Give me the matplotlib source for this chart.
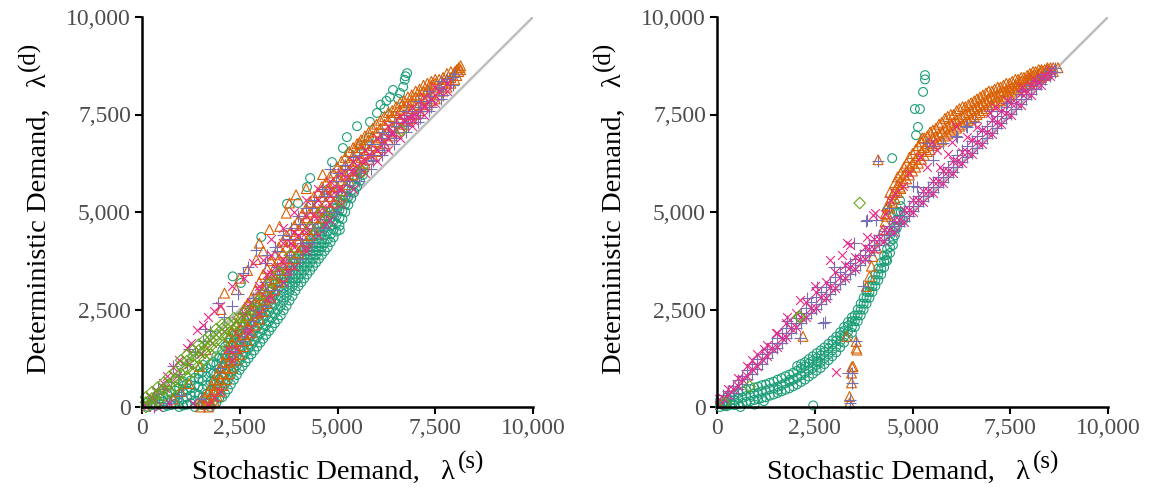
import matplotlib
matplotlib.use('Agg')
import matplotlib.pyplot as plt

plt.rcParams['font.family'] = ['Liberation Serif', 'DejaVu Serif']

# colours of the five series (Dark2)
teal, orange, purple, pink, green = '#1B9E77', '#D95F02', '#7570B3', '#E7298A', '#66A61E'

tick_vals = [0, 2500, 5000, 7500, 10000]
tick_labels = ['0', '2,500', '5,000', '7,500', '10,000']

# ---------------- left panel ----------------
# dense bands are kept as (x, [y, ...]) rows
L_teal_rows = [
    (150, [0, 120]), (350, [30, 180]), (550, [0, 140, 280]), (750, [50, 200, 360]),
    (950, [0, 150, 320, 480]), (1150, [60, 240, 420, 600]), (1350, [0, 170, 360, 550, 750]),
    (1550, [50, 250, 460, 680, 900]), (1750, [0, 200, 420, 650, 880, 1100]),
    (1900, [100, 350, 600, 850, 1100, 1300]), (2050, [250, 500, 750, 1000, 1250, 1450]),
    (2200, [450, 700, 950, 1200, 1450, 1650]), (2350, [700, 950, 1200, 1450, 1700, 1850]),
    (2500, [950, 1200, 1450, 1700, 1950]), (2650, [1150, 1400, 1650, 1900, 2150]),
    (2800, [1350, 1600, 1850, 2100, 2350]), (2950, [1550, 1800, 2050, 2300, 2550]),
    (3100, [1750, 2000, 2250, 2500, 2750]), (3250, [1950, 2200, 2450, 2700, 2950]),
    (3400, [2150, 2400, 2650, 2900, 3150]), (3550, [2350, 2600, 2850, 3100, 3300]),
    (3700, [2600, 2850, 3100, 3300, 3500]), (3850, [2850, 3100, 3300, 3500, 3700]),
    (4000, [3100, 3300, 3500, 3700, 3900]), (4150, [3300, 3500, 3700, 3900, 4100]),
    (4300, [3500, 3700, 3900, 4100, 4300]), (4450, [3700, 3900, 4100, 4300, 4500]),
    (4600, [3900, 4100, 4300, 4500, 4700]), (4750, [4100, 4300, 4500, 4700, 4900]),
    (4900, [4350, 4550, 4750, 4950, 5100]), (5050, [4650, 4850, 5050, 5250]),
    (5200, [5000, 5200, 5400, 5600]), (5350, [5350, 5550, 5750]),
    (5500, [5650, 5850, 6050]), (5650, [5950, 6150]),
]
L_teal_rows2 = [
    (250, [60]), (450, [70, 220]), (650, [30, 180, 320]), (850, [80, 240, 420]),
    (1050, [40, 200, 380, 540]), (1250, [100, 300, 480, 680]), (1450, [100, 300, 520, 720, 850]),
    (1650, [120, 330, 560, 780, 1000]), (1825, [150, 380, 620, 860, 1150]),
    (1975, [220, 480, 720, 980, 1250]), (2125, [350, 600, 850, 1100, 1350, 1550]),
    (2275, [580, 830, 1080, 1330, 1580, 1750]), (2425, [820, 1070, 1320, 1580, 1850]),
    (2575, [1050, 1300, 1550, 1800, 2050]), (2725, [1250, 1500, 1750, 2000, 2250]),
    (2875, [1450, 1700, 1950, 2200, 2450]), (3025, [1650, 1900, 2150, 2400, 2650]),
    (3175, [1850, 2100, 2350, 2600, 2850]), (3325, [2050, 2300, 2550, 2800, 3050]),
    (3475, [2250, 2500, 2750, 3000, 3200]), (3625, [2480, 2730, 2980, 3200, 3400]),
    (3775, [2730, 2980, 3200, 3400, 3600]), (3925, [2980, 3200, 3400, 3600, 3800]),
    (4075, [3200, 3400, 3600, 3800, 4000]), (4225, [3400, 3600, 3800, 4000, 4200]),
    (4375, [3600, 3800, 4000, 4200, 4400]), (4525, [3800, 4000, 4200, 4400, 4600]),
    (4675, [4000, 4200, 4400, 4600, 4800]), (4825, [4230, 4430, 4630, 4830, 5000]),
    (4975, [4500, 4700, 4900, 5100]), (5125, [4820, 5020, 5220, 5420]),
    (5275, [5180, 5380, 5580]), (5425, [5500, 5700, 5900]), (5575, [5800, 6000]),
]
L_teal_pts = [
    (2320, 3350), (2530, 3180), (3050, 4360), (3710, 5210), (3990, 5230), (4220, 5640),
    (4300, 5870), (4860, 6280), (5140, 6640), (5240, 6920), (5500, 7200), (5830, 7310),
    (6010, 7540), (6100, 7750), (6200, 7650), (6340, 7950), (6250, 7850), (6420, 8130),
    (6550, 7900), (6600, 8050), (6680, 8210), (6720, 8390), (6780, 8560), (6740, 8480),
    (1040, 660), (1560, 1080), (5300, 6500), (5600, 6700), (5800, 6900), (4900, 5500),
    (4730, 5560), (5060, 4540),
]
L_orange_rows = [
    (1500, [0, 150]), (1700, [0, 200, 400]), (1850, [150, 450, 700]),
    (2000, [400, 700, 1000]), (2150, [700, 1000, 1350]), (2300, [1000, 1300, 1650, 1950]),
    (2500, [1350, 1700, 2000, 2300]), (2700, [1700, 2050, 2350, 2650]),
    (2900, [2100, 2400, 2700, 3000]), (3100, [2450, 2750, 3050, 3400]),
    (3300, [2800, 3100, 3400, 3750]), (3500, [3200, 3500, 3800, 4100]),
    (3700, [3500, 3800, 4100, 4400]), (3900, [3800, 4100, 4400, 4650]),
    (4100, [4100, 4400, 4700, 4950]), (4300, [4400, 4700, 5000, 5250]),
    (4500, [4700, 5000, 5250, 5500]), (4700, [5000, 5250, 5500, 5750]),
    (4900, [5250, 5500, 5750, 6000]), (5100, [5550, 5800, 6050, 6300]),
    (5300, [5800, 6050, 6300, 6550]), (5500, [6050, 6300, 6550, 6750]),
    (5700, [6250, 6500, 6750, 6950]), (5900, [6450, 6700, 6950, 7150]),
    (6100, [6650, 6900, 7150, 7350]), (6300, [6850, 7100, 7350, 7550]),
    (6500, [7050, 7300, 7550, 7700]), (6700, [7250, 7500, 7700, 7850]),
    (6900, [7400, 7650, 7850, 8000]), (7100, [7600, 7800, 8000, 8150]),
    (7300, [7750, 7950, 8150, 8300]), (7500, [7900, 8100, 8300, 8400]),
    (7700, [8100, 8300, 8450]), (7900, [8300, 8450, 8600]),
    (8050, [8500, 8650]), (8150, [8650, 8750]),
]
L_orange_rows2 = [
    (1600, [80, 250]), (1775, [100, 320, 550]), (1925, [280, 580, 850]), (2075, [550, 850, 1150]),
    (2225, [850, 1150, 1500, 1800]), (2400, [1200, 1500, 1800, 2100]),
    (2600, [1550, 1850, 2200, 2500]), (2800, [1900, 2200, 2500, 2800]),
    (3000, [2250, 2550, 2850, 3200]), (3200, [2650, 2950, 3250, 3550]),
    (3400, [3000, 3300, 3600, 3900]), (3600, [3350, 3650, 3950, 4250]),
    (3800, [3650, 3950, 4250, 4500]), (4000, [3950, 4250, 4550, 4800]),
    (4200, [4250, 4550, 4850, 5100]), (4400, [4550, 4850, 5100, 5400]),
    (4600, [4850, 5100, 5400, 5650]), (4800, [5100, 5400, 5650, 5900]),
    (5000, [5400, 5650, 5900, 6150]), (5200, [5700, 5950, 6200, 6400]),
    (5400, [5950, 6200, 6450, 6650]), (5600, [6150, 6400, 6650, 6850]),
    (5800, [6350, 6600, 6850, 7050]), (6000, [6550, 6800, 7050, 7250]),
    (6200, [6750, 7000, 7250, 7450]), (6400, [6950, 7200, 7450, 7600]),
    (6600, [7150, 7400, 7600, 7800]), (6800, [7350, 7600, 7800, 7950]),
    (7000, [7500, 7750, 7950, 8100]), (7200, [7700, 7900, 8100, 8250]),
    (7400, [7850, 8050, 8250, 8350]), (7600, [8000, 8200, 8400]),
    (7800, [8200, 8400, 8550]), (8000, [8400, 8600]), (8100, [8600, 8700]),
]
L_orange_pts = [
    (2110, 2920), (2020, 2500), (2410, 3010), (2920, 3780), (3000, 4200), (3260, 4550),
    (3520, 4630), (3690, 4970), (3770, 5230), (3940, 5440), (4620, 5960), (5560, 6770),
    (1640, 1470), (1470, 1040), (2700, 3500), (2500, 3300), (3100, 4000), (4200, 5600),
    (1000, 400), (800, 200), (1200, 600),
]
L_purple_rows = [
    (2550, [1700, 2400]), (2850, [2200, 2800]), (3150, [2600, 3200, 3700]),
    (3450, [3000, 3600, 4000]), (3750, [3400, 3900, 4300]), (4050, [3800, 4300, 4700]),
    (4350, [4200, 4700, 5100]), (4650, [4600, 5000, 5400]), (4950, [5000, 5400, 5800]),
    (5250, [5400, 5800, 6100]), (5550, [5800, 6100, 6450]), (5850, [6100, 6450, 6750]),
    (6150, [6450, 6750, 7050]), (6450, [6750, 7050, 7300]), (6750, [7050, 7300, 7600]),
    (7050, [7300, 7600, 7850]), (7350, [7600, 7850, 8100]), (7650, [7900, 8150, 8350]),
    (7950, [8250, 8450]),
]
L_purple_pts = [
    (150, 100), (350, 250), (550, 450), (750, 650), (950, 850), (1150, 1100), (1350, 1400),
    (1550, 1700), (1750, 1950), (1940, 2670), (1600, 2000), (1200, 1500), (800, 1050),
    (400, 450), (2100, 2300), (2300, 2600), (2580, 3440), (2920, 4030), (2700, 3600),
    (2450, 2900), (3200, 3900), (3400, 4100), (3600, 4400), (3800, 4600), (4000, 4900),
    (4200, 5100), (4400, 5300), (4600, 5600), (4800, 6090), (5000, 6000), (5200, 6200),
    (5400, 6400), (5900, 6340), (6100, 6900), (6300, 7000), (6500, 7200), (6700, 7400),
    (6900, 7500), (7100, 7700), (7360, 7970), (7600, 8200), (7800, 8400), (8000, 8550),
    (2000, 1000), (2300, 1400), (2600, 2000), (2900, 2500), (3200, 3000), (3500, 3400),
    (3800, 3800), (4100, 4200), (4400, 4600), (4700, 5000), (5000, 5400), (5300, 5700),
    (5600, 6000), (5900, 6300), (6200, 6600), (6500, 6900), (6800, 7200), (7100, 7400),
    (7400, 7700), (7700, 8000), (1000, 300), (1500, 200), (300, 0), (700, 100),
]
L_pink_rows = [
    (2400, [1500, 2200]), (2700, [1900, 2600]), (3000, [2400, 3000]),
    (3300, [2800, 3400, 3900]), (3600, [3200, 3700, 4200]), (3900, [3600, 4100, 4500]),
    (4200, [4000, 4500, 4900]), (4500, [4400, 4900, 5300]), (4800, [4800, 5200, 5600]),
    (5100, [5200, 5600, 6000]), (5400, [5600, 6000, 6300]), (5700, [6000, 6300, 6600]),
    (6000, [6300, 6600, 6900]), (6300, [6600, 6900, 7200]), (6600, [6900, 7200, 7450]),
    (6900, [7200, 7450, 7700]), (7200, [7500, 7750, 7950]), (7500, [7800, 8000, 8200]),
    (7800, [8100, 8300]),
]
L_pink_pts = [
    (100, 80), (200, 260), (350, 430), (540, 610), (650, 800), (800, 1030), (950, 1200),
    (1150, 1510), (1250, 1650), (1400, 1970), (1550, 2100), (1690, 2310), (1850, 2450),
    (300, 200), (600, 500), (900, 800), (1200, 1100), (1500, 1350), (1800, 1650),
    (2100, 1950), (2000, 2600), (2300, 3100), (2600, 3300), (2850, 3700), (3090, 3780),
    (3300, 4300), (3600, 4600), (3900, 5000), (4200, 5300), (4500, 5600), (4800, 5800),
    (2200, 1500), (2400, 1900), (2600, 2400), (2800, 2700), (3000, 3100), (3200, 3400),
    (3400, 3600), (3600, 3800), (3800, 4200), (4000, 4400), (4200, 4600), (4400, 4900),
    (4600, 5100), (4800, 5400), (5000, 5600), (5200, 5900), (5400, 6100), (5600, 6300),
    (5800, 6500), (6000, 6600), (6200, 6800), (6400, 7000), (6600, 7200), (6800, 7400),
    (7000, 7500), (7200, 7700), (7400, 7900), (7600, 8100), (7800, 8300), (6930, 7370),
    (6680, 7360), (6400, 7050), (2300, 1200), (2700, 2000), (3200, 2800), (3700, 3500),
    (4200, 4100), (4700, 4700), (1850, 250), (2000, 400), (1300, 100), (1700, 50),
    (700, 100), (400, 0), (100, 0),
]
L_green_rows = [
    (100, [0, 120, 250]), (250, [80, 220, 380]), (400, [150, 330, 500]),
    (550, [280, 450, 620]), (700, [400, 580, 780]), (850, [520, 700, 900]),
    (1000, [650, 850, 1050, 1200]), (1150, [780, 980, 1180, 1330]),
    (1300, [900, 1100, 1300, 1450]), (1450, [1050, 1250, 1450, 1600]),
    (1600, [1200, 1400, 1580, 1720]), (1750, [1350, 1550, 1720, 1850]),
    (1900, [1500, 1700, 1850, 2000]), (2050, [1650, 1850, 2000, 2120]),
    (2200, [1800, 1980, 2150]), (2350, [1950, 2120, 2280]), (2500, [2100, 2300]),
    (2650, [2300, 2450]), (2800, [2500]), (2950, [2700]), (3100, [2900]),
]
L_green_pts = [(5650, 6040), (6630, 7090), (3300, 3200), (3500, 3450), (3800, 3900),
               (4300, 4600), (5100, 5300), (4600, 5000)]

# ---------------- right panel ----------------
R_teal_rows = [
    (80, [0, 80, 180]), (250, [20, 120, 240]), (450, [50, 180, 320]), (650, [100, 240, 400]),
    (850, [150, 300, 460]), (1050, [200, 360, 520]), (1250, [250, 420, 580]),
    (1450, [320, 480, 650]), (1650, [400, 560, 740]), (1850, [480, 650, 830]),
    (2050, [580, 750, 930, 1050]), (2250, [700, 870, 1050, 1150]),
    (2450, [850, 1000, 1180, 1300]), (2650, [1000, 1150, 1320, 1450]),
    (2850, [1200, 1350, 1500, 1620]), (3050, [1400, 1550, 1700, 1800]),
    (3250, [1650, 1800, 1950, 2050]), (3450, [1900, 2050, 2200, 2300]),
    (3600, [2200, 2350, 2500]), (3750, [2500, 2650, 2800]), (3900, [2800, 2950, 3100]),
    (4050, [3100, 3250, 3400]), (4200, [3400, 3550, 3700]), (4350, [3750, 3900, 4050]),
    (4500, [4150, 4300, 4500]), (4600, [4600, 4800]), (4700, [5000, 5150]),
]
R_teal_rows2 = [
    (165, [40, 140]), (350, [60, 170, 290]), (550, [80, 220, 360]), (750, [130, 280, 440]),
    (950, [180, 340, 500]), (1150, [230, 400, 560]), (1350, [290, 460, 620]),
    (1550, [360, 520, 700]), (1750, [440, 610, 790]), (1950, [530, 700, 880]),
    (2150, [640, 810, 990, 1100]), (2350, [780, 940, 1110, 1230]),
    (2550, [930, 1080, 1250, 1380]), (2750, [1100, 1250, 1410, 1530]),
    (2950, [1300, 1450, 1600, 1710]), (3150, [1530, 1680, 1830, 1920]),
    (3350, [1780, 1930, 2080, 2180]), (3525, [2050, 2200, 2350]), (3675, [2350, 2500, 2650]),
    (3825, [2650, 2800, 2950]), (3975, [2950, 3100, 3250]), (4125, [3250, 3400, 3550]),
    (4275, [3580, 3730, 3880]), (4425, [3950, 4100, 4250]), (4550, [4400, 4600]),
    (4650, [4800, 5000]),
]
R_teal_pts = [
    (960, 60), (2460, 40), (1560, 440), (1860, 700), (2580, 1170), (5320, 8510),
    (5320, 8400), (5270, 8080), (5060, 7640), (5190, 7640), (5140, 7180), (5090, 6970),
    (4480, 6380), (4680, 5300), (4760, 4790), (4600, 5000), (4350, 5050), (4330, 3780),
    (200, 30), (600, 0), (1200, 150),
]
R_orange_rows = [
    (4300, [4750, 4950]), (4420, [5100, 5300, 5500]), (4550, [5350, 5550, 5750]),
    (4700, [5600, 5800, 6000]), (4850, [5850, 6050, 6250]), (5000, [6050, 6250, 6500]),
    (5150, [6250, 6450, 6700]), (5300, [6450, 6650, 6900]), (5450, [6600, 6800, 7050]),
    (5600, [6750, 6950, 7150]), (5750, [6850, 7050, 7300]), (5900, [7000, 7200, 7450]),
    (6050, [7100, 7300, 7500]), (6200, [7200, 7400, 7650]), (6350, [7300, 7500, 7700]),
    (6500, [7400, 7600, 7800]), (6650, [7500, 7700, 7900]), (6800, [7600, 7800, 8000]),
    (6950, [7700, 7900, 8100]), (7100, [7800, 7950, 8150]), (7250, [7850, 8050, 8200]),
    (7400, [7950, 8100, 8300]), (7550, [8050, 8200, 8350]), (7700, [8150, 8300, 8400]),
    (7850, [8200, 8350, 8450]), (8000, [8300, 8450, 8550]), (8150, [8400, 8500, 8600]),
    (8300, [8450, 8600, 8650]), (8450, [8550, 8650, 8700]), (8600, [8600, 8700]),
    (8720, [8700]),
]
R_orange_rows2 = [
    (4360, [4950, 5150]), (4490, [5250, 5450]), (4620, [5500, 5700, 5900]),
    (4780, [5750, 5950, 6150]), (4920, [5950, 6150, 6400]), (5080, [6150, 6350, 6600]),
    (5230, [6350, 6550, 6800]), (5380, [6550, 6750, 6950]), (5520, [6700, 6900, 7100]),
    (5680, [6800, 7000, 7250]), (5830, [6950, 7150, 7400]), (5980, [7050, 7250, 7500]),
    (6130, [7150, 7350, 7600]), (6280, [7250, 7450, 7700]), (6430, [7350, 7550, 7750]),
    (6580, [7450, 7650, 7850]), (6730, [7550, 7750, 7950]), (6880, [7650, 7850, 8050]),
    (7030, [7750, 7950, 8100]), (7180, [7850, 8000, 8200]), (7330, [7900, 8100, 8250]),
    (7480, [8000, 8150, 8300]), (7630, [8100, 8250, 8400]), (7780, [8200, 8350, 8450]),
    (7930, [8250, 8400, 8500]), (8080, [8350, 8500, 8600]), (8230, [8450, 8550, 8650]),
    (8380, [8500, 8650]), (8530, [8600, 8700]),
]
R_orange_pts = [
    (2200, 1810), (3310, 1810), (3560, 1680), (3560, 1510), (3480, 1040), (3440, 870),
    (3440, 620), (3390, 270), (3390, 100), (4120, 6340), (5250, 6900), (4250, 4550),
    (4330, 4890), (3990, 3860), (3950, 3610), (3900, 3350), (3820, 3090), (4090, 4080),
    (4680, 5640), (3580, 1460), (3450, 1030),
]
R_purple_rows = [
    (150, [150, 300]), (400, [350, 550]), (650, [600, 800]), (900, [850, 1100]),
    (1150, [1100, 1350]), (1400, [1400, 1650]), (1650, [1650, 1900]), (1900, [1900, 2150]),
    (2150, [2150, 2400]), (2400, [2400, 2700]), (2650, [2650, 2950]), (2900, [2900, 3200]),
    (3150, [3150, 3450]), (3400, [3400, 3700]), (3650, [3650, 3900]), (3900, [3900, 4150]),
    (4150, [4150, 4400]), (4400, [4400, 4650]), (4650, [4650, 4900]), (4900, [4900, 5150]),
    (5150, [5150, 5400]), (5400, [5400, 5650]), (5650, [5650, 5900]), (5900, [5900, 6150]),
    (6150, [6150, 6450]), (6400, [6400, 6700]), (6650, [6650, 6950]), (6900, [6900, 7200]),
    (7150, [7150, 7450]), (7400, [7400, 7700]), (7650, [7650, 7900]), (7900, [7900, 8150]),
    (8150, [8150, 8350]), (8400, [8400, 8550]), (8650, [8600, 8700]),
]
R_purple_rows2 = [
    (275, [230, 420]), (525, [470, 680]), (775, [720, 950]), (1025, [980, 1220]),
    (1275, [1250, 1500]), (1525, [1520, 1780]), (1775, [1770, 2030]), (2025, [2020, 2280]),
    (2275, [2270, 2550]), (2525, [2520, 2830]), (2775, [2770, 3080]), (3025, [3020, 3330]),
    (3275, [3270, 3580]), (3525, [3520, 3800]), (3775, [3770, 4030]), (4025, [4020, 4280]),
    (4275, [4270, 4520]), (4525, [4520, 4780]), (4775, [4770, 5030]), (5025, [5020, 5280]),
    (5275, [5270, 5520]), (5525, [5520, 5780]), (5775, [5770, 6030]), (6025, [6020, 6300]),
    (6275, [6270, 6580]), (6525, [6520, 6830]), (6775, [6770, 7080]), (7025, [7020, 7330]),
    (7275, [7270, 7580]), (7525, [7520, 7800]), (7775, [7770, 8030]), (8025, [8020, 8250]),
    (8275, [8270, 8450]), (8525, [8500, 8620]),
]
R_purple_pts = [
    (2750, 2170), (2110, 1770), (4120, 6320), (3560, 1680), (3350, 870), (3730, 3090),
    (3820, 4760), (4070, 4800), (6120, 6940), (6380, 7200), (5010, 5660), (5520, 6680),
    (5780, 6770), (6390, 7180), (6140, 6920), (7420, 7790), (5370, 6770), (5520, 6330),
    (5120, 5640), (3390, 190), (3390, 100), (2560, 3080), (2710, 2150), (3840, 4790),
    (1800, 2200), (2300, 2800), (3000, 3600), (3500, 4200), (4400, 5100), (7000, 7600),
    (7800, 8100), (6600, 7300), (3440, 620), (3440, 870),
]
R_pink_rows = [
    (50, [50, 200]), (275, [300, 450]), (525, [550, 750]), (775, [800, 1050]),
    (1025, [1050, 1350]), (1275, [1300, 1600]), (1525, [1550, 1900]), (1775, [1800, 2150]),
    (2025, [2050, 2400]), (2275, [2300, 2700]), (2525, [2550, 2950]), (2775, [2800, 3200]),
    (3025, [3050, 3450]), (3275, [3300, 3650]), (3525, [3550, 3850]), (3775, [3800, 4100]),
    (4025, [4050, 4300]), (4275, [4250, 4550]), (4525, [4500, 4800]), (4775, [4750, 5050]),
    (5025, [5000, 5300]), (5275, [5250, 5550]), (5525, [5500, 5800]), (5775, [5750, 6050]),
    (6025, [6000, 6300]), (6275, [6250, 6550]), (6525, [6500, 6850]), (6775, [6750, 7100]),
    (7025, [7000, 7350]), (7275, [7250, 7600]), (7525, [7500, 7800]), (7775, [7750, 8050]),
    (8025, [8000, 8250]), (8275, [8250, 8450]), (8525, [8500, 8650]),
]
R_pink_rows2 = [
    (150, [230]), (400, [470]), (650, [720]), (900, [980]), (1150, [1230]), (1400, [1520]),
    (1650, [1780]), (1900, [2030]), (2150, [2300]), (2400, [2550]), (2650, [2820]),
    (2900, [3080]), (3150, [3330]), (3400, [3580]), (3650, [3800]), (3900, [4050]),
    (4150, [4300]), (4400, [4550]), (4650, [4800]), (4900, [5050]), (5150, [5300]),
    (5400, [5550]), (5650, [5800]), (5900, [6050]), (6150, [6300]), (6400, [6550]),
    (6650, [6800]), (6900, [7050]), (7150, [7300]), (7400, [7550]), (7650, [7800]),
    (7900, [8050]), (8150, [8280]), (8400, [8500]),
]
R_pink_pts = [
    (2120, 2740), (2890, 3770), (3320, 4200), (3840, 4360), (4040, 4970), (3050, 890),
    (3390, 4160), (5630, 6590), (5370, 6150), (6650, 7180), (6980, 7540), (7420, 7870),
    (5700, 6150), (6390, 6920), (4420, 5320), (4760, 5660), (4300, 4950), (4550, 5500),
    (4900, 6000), (5200, 6400), (5500, 6800), (6100, 7200), (7800, 8200), (8100, 8400),
    (1500, 1900), (1200, 1500), (900, 1200), (2500, 3100), (1800, 2300), (3990, 4930),
    (6000, 6800), (7100, 7700), (5900, 6500), (3200, 3900),
]
R_green_pts = [(3650, 5230), (2100, 2320), (835, 530), (200, 100), (2120, 2310)]


def flatten(rows, pts):
    xs = [x for x, ys in rows for _ in ys] + [p[0] for p in pts]
    ys = [y for _, yl in rows for y in yl] + [p[1] for p in pts]
    return xs, ys


def draw(ax, teal_xy, orange_xy, purple_xy, pink_xy, green_xy):
    ax.plot([0, 10000], [0, 10000], color='#BEBEBE', lw=1.8, zorder=1)
    kw = dict(linewidths=0.8, clip_on=False, zorder=2)
    ax.scatter(*teal_xy, s=40, marker='o', facecolors='none', edgecolors=teal, **kw)
    ax.scatter(*orange_xy, s=50, marker='^', facecolors='none', edgecolors=orange, **kw)
    ax.scatter(*purple_xy, s=75, marker='+', color=purple, **kw)
    ax.scatter(*pink_xy, s=40, marker='x', color=pink, **kw)
    ax.scatter(*green_xy, s=34, marker='D', facecolors='none', edgecolors=green, **kw)

    ax.set_xlim(0, 10000)
    ax.set_ylim(0, 10000)
    ax.set_xticks(tick_vals)
    ax.set_xticklabels(tick_labels)
    ax.set_yticks(tick_vals)
    ax.set_yticklabels(tick_labels)
    for s in ['top', 'right']:
        ax.spines[s].set_visible(False)
    for s in ['left', 'bottom']:
        ax.spines[s].set_linewidth(1.8)
        ax.spines[s].set_zorder(3)
    ax.tick_params(length=5, width=1.5, labelsize=17, labelcolor='#4D4D4D', pad=3)

    # axis titles: lambda with a larger bracketed superscript
    ax.set_xlabel('Stochastic Demand,   \u03bb', fontsize=20.5, labelpad=15)
    ax.xaxis.label.set_x(0.5 - 14 / 391)
    ax.annotate('(s)', xy=(1, 0), xycoords=ax.xaxis.label, xytext=(2, 8),
                textcoords='offset points', ha='left', va='bottom', fontsize=18)
    ax.set_ylabel('Deterministic Demand,   \u03bb', fontsize=20.5, labelpad=10)
    ax.yaxis.label.set_y(0.5 - 12 / 390)
    ax.annotate('(d)', xy=(1, 1), xycoords=ax.yaxis.label, xytext=(-8.5, 2),
                textcoords='offset points', ha='right', va='bottom', rotation=90,
                fontsize=18)


fig = plt.figure(figsize=(11.51, 4.99), dpi=100)
ax1 = fig.add_axes([142 / 1151, 1 - 407 / 499, 391 / 1151, 390 / 499])
ax2 = fig.add_axes([717 / 1151, 1 - 407 / 499, 391 / 1151, 390 / 499])

draw(ax1,
     flatten(L_teal_rows + L_teal_rows2, L_teal_pts),
     flatten(L_orange_rows + L_orange_rows2, L_orange_pts),
     flatten(L_purple_rows, L_purple_pts),
     flatten(L_pink_rows, L_pink_pts),
     flatten(L_green_rows, L_green_pts))
draw(ax2,
     flatten(R_teal_rows + R_teal_rows2, R_teal_pts),
     flatten(R_orange_rows + R_orange_rows2, R_orange_pts),
     flatten(R_purple_rows + R_purple_rows2, R_purple_pts),
     flatten(R_pink_rows + R_pink_rows2, R_pink_pts),
     flatten([], R_green_pts))

fig.savefig('out.png', dpi=100)
